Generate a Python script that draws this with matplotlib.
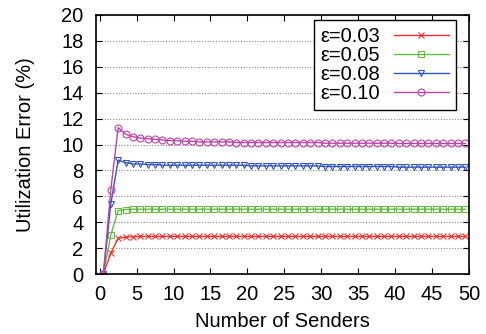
import matplotlib
matplotlib.use("Agg")
import matplotlib.pyplot as plt
import numpy as np

plt.rcParams['font.family'] = ['Liberation Sans', 'DejaVu Sans']

senders = np.arange(0.5, 50.5, 1.0)

err_003 = [0, 1.6, 2.75, 2.85, 2.88] + [2.9] * 45
err_005 = [0, 3.0, 4.9, 4.98, 5.0] + [5.0] * 45
err_008 = ([0, 5.4, 8.8, 8.6, 8.5, 8.5, 8.45, 8.45, 8.4, 8.4]
           + [8.4] * 10 + [8.35] * 10 + [8.3] * 10 + [8.25] * 10)
err_010 = ([0, 6.5, 11.3, 10.8, 10.6, 10.5, 10.45, 10.4, 10.35, 10.3,
            10.3, 10.25, 10.25, 10.2, 10.2, 10.2, 10.2, 10.2, 10.15, 10.15]
           + [10.15] * 10 + [10.1] * 10 + [10.08] * 10)

series = [
    ("ε=0.03", err_003, "#f03030", "x"),
    ("ε=0.05", err_005, "#66bb44", "s"),
    ("ε=0.08", err_008, "#3355bb", "v"),
    ("ε=0.10", err_010, "#bb44aa", "o"),
]

fs = 14.5
fig = plt.figure(figsize=(4.86, 3.34), dpi=100)
ax = fig.add_axes([96 / 486, 1 - 274 / 334, 373 / 486, 259 / 334])

for label, vals, col, mk in series:
    ax.plot(senders, vals, color=col, linewidth=1, marker=mk, markersize=5,
            markerfacecolor="none", markeredgecolor=col, markeredgewidth=0.8,
            label=label)

ax.set_xlim(-0.5, 50)
ax.set_ylim(0, 20)
ax.set_xticks(range(0, 51, 5))
ax.set_yticks(range(0, 21, 2))
ax.yaxis.grid(True, linestyle=(0, (1, 1.5)), color="#888888", linewidth=0.8)
ax.set_axisbelow(True)
ax.tick_params(direction="in", top=True, right=True, labelsize=fs, length=4)
ax.tick_params(axis="y", pad=9)
ax.tick_params(axis="x", pad=8)
for s in ax.spines.values():
    s.set_linewidth(1.2)

ax.set_xlabel("Number of Senders", fontsize=fs, labelpad=6)
ax.set_ylabel("Utilization Error (%)", fontsize=fs, labelpad=19)

leg = ax.legend(loc="upper right", bbox_to_anchor=(0.965, 0.98), fontsize=fs,
                frameon=True, fancybox=False, handlelength=2.75,
                borderpad=0.35, labelspacing=0.0, handletextpad=0.65,
                borderaxespad=0, markerfirst=False, numpoints=1)
leg.get_frame().set_edgecolor("black")
leg.get_frame().set_linewidth(1.0)
leg.get_frame().set_alpha(1)

plt.savefig("out.png", dpi=100)
